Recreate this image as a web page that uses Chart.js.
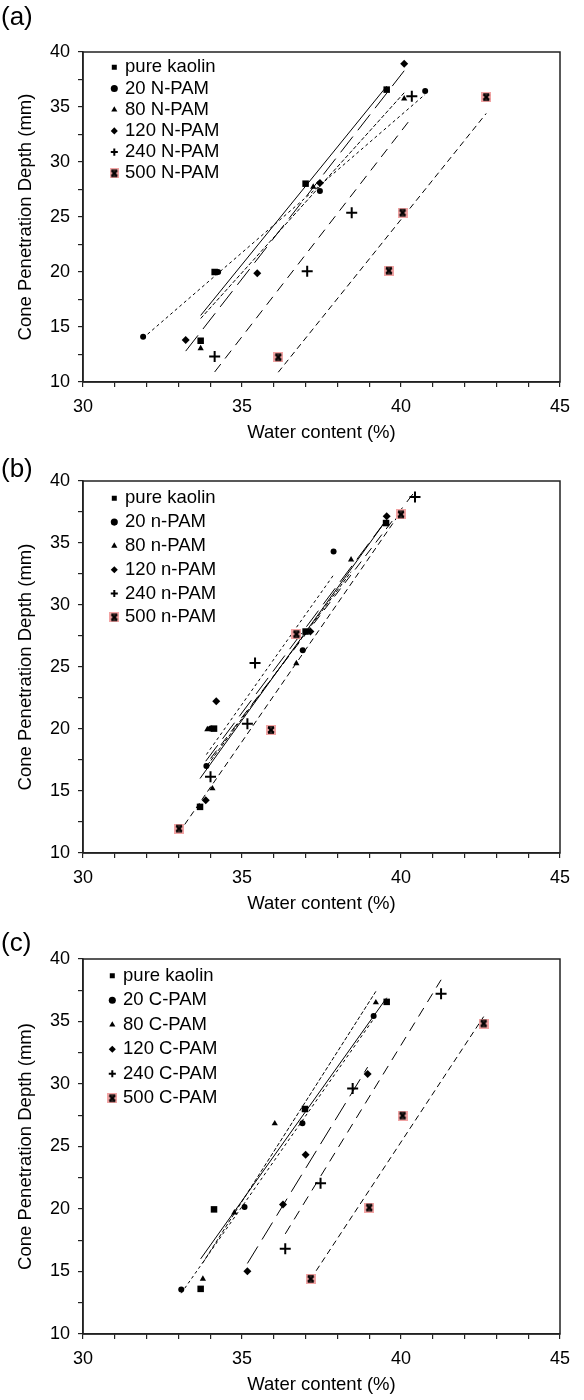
<!DOCTYPE html>
<html>
<head>
<meta charset="utf-8">
<script src="https://cdn.jsdelivr.net/npm/chart.js@4.4.1/dist/chart.umd.min.js"></script>
<style>
  body { margin: 0; background: #fff; }
  #page { position: relative; width: 584px; height: 1400px; overflow: hidden; font-family: 'Liberation Sans', Arial, sans-serif; }
  .panel { position: absolute; left: 0; width: 584px; }
  .tag { position: absolute; left: 1px; font-size: 26px; line-height: 26px; color: #000; }
</style>
</head>
<body>
<div id="page">
  <div class="panel" style="top:0px"><canvas id="chartA" width="584" height="448"></canvas></div>
  <div class="panel" style="top:448px"><canvas id="chartB" width="584" height="471"></canvas></div>
  <div class="panel" style="top:919px"><canvas id="chartC" width="584" height="481"></canvas></div>
  <div class="tag" style="top:3px">(a)</div>
  <div class="tag" style="top:455px">(b)</div>
  <div class="tag" style="top:929px">(c)</div>
</div>
<script>
// axis ticks
const waterTicks = [30, 35, 40, 45];
const depthTicks = [10, 15, 20, 25, 30, 35, 40];

// legend names
const namesA = ['pure kaolin', '20 N-PAM', '80 N-PAM', '120 N-PAM', '240 N-PAM', '500 N-PAM'];
const namesB = ['pure kaolin', '20 n-PAM', '80 n-PAM', '120 n-PAM', '240 n-PAM', '500 n-PAM'];
const namesC = ['pure kaolin', '20 C-PAM', '80 C-PAM', '120 C-PAM', '240 C-PAM', '500 C-PAM'];

// (a) [water content %, cone penetration mm]
const aKaolin = [[33.70, 13.75], [34.14, 20.00], [37.00, 28.03], [39.55, 36.58]];
const a20 = [[31.89, 14.11], [34.25, 20.00], [37.45, 27.36], [40.76, 36.45]];
const a80 = [[33.70, 13.06], [34.18, 19.95], [37.24, 27.73], [40.10, 35.76]];
const a120 = [[33.23, 13.81], [35.48, 19.88], [37.45, 28.09], [40.10, 38.94]];
const a240 = [[34.14, 12.31], [37.05, 20.06], [38.45, 25.39], [40.34, 35.97]];
const a500 = [[36.14, 12.25], [39.62, 20.12], [40.05, 25.39], [42.68, 35.90]];

// (b)
const bKaolin = [[33.68, 13.72], [34.12, 20.03], [37.00, 27.86], [39.53, 36.61]];
const b20 = [[33.88, 17.01], [34.02, 20.05], [36.91, 26.35], [37.88, 34.31]];
const b80 = [[34.07, 15.20], [33.91, 19.97], [36.71, 25.29], [38.43, 33.66]];
const b120 = [[33.86, 14.26], [34.19, 22.24], [37.15, 27.86], [39.55, 37.15]];
const b240 = [[34.01, 16.15], [35.17, 20.43], [35.41, 25.32], [40.44, 38.71]];
const b500 = [[33.02, 11.97], [35.91, 19.92], [36.71, 27.65], [40.00, 37.31]];

// (c)
const cKaolin = [[33.70, 13.61], [34.12, 19.97], [36.98, 28.00], [39.55, 36.57]];
const c20 = [[33.09, 13.56], [35.08, 20.16], [36.90, 26.86], [39.14, 35.45]];
const c80 = [[33.77, 14.41], [34.76, 19.71], [36.03, 26.84], [39.21, 36.52]];
const c120 = [[35.17, 15.03], [36.29, 20.37], [37.00, 24.34], [38.95, 30.80]];
const c240 = [[36.36, 16.82], [37.47, 22.06], [38.48, 29.65], [41.26, 37.23]];
const c500 = [[37.16, 14.41], [39.00, 20.11], [40.05, 27.47], [42.60, 34.84]];

const FONT = "'Liberation Sans', Arial, sans-serif";

// pink square with a black cross, used for the 500 series
const pinkX = document.createElement('canvas');
pinkX.width = 10; pinkX.height = 10;
(function() {
    const g = pinkX.getContext('2d');
    g.fillStyle = '#f2a4a4';
    g.fillRect(0, 0, 10, 10);
    g.strokeStyle = '#000';
    g.lineWidth = 2.2;
    g.beginPath();
    g.moveTo(2.2, 2.2); g.lineTo(7.8, 7.8);
    g.moveTo(7.8, 2.2); g.lineTo(2.2, 7.8);
    g.stroke();
    g.lineWidth = 1.4;
    g.beginPath();
    g.moveTo(2, 2); g.lineTo(8, 2);
    g.moveTo(2, 8); g.lineTo(8, 8);
    g.stroke();
})();

const markers = [
    { style: 'rect', radius: 4.6, border: 0 },
    { style: 'circle', radius: 3, border: 0 },
    { style: 'triangle', radius: 3.6, border: 0 },
    { style: 'rectRot', radius: 4, border: 0 },
    { style: 'cross', radius: 5.5, border: 2 },
    { style: pinkX, radius: 5, border: 0 }
];
const dashes = [[], [3, 3], [4, 2], [20, 8], [10, 7], [6, 4]];

// least squares line over the range of the points
function fitLine(pts) {
    const n = pts.length;
    let mx = 0, my = 0;
    pts.forEach(p => { mx += p[0] / n; my += p[1] / n; });
    let sxx = 0, sxy = 0;
    pts.forEach(p => { sxx += (p[0] - mx) * (p[0] - mx); sxy += (p[0] - mx) * (p[1] - my); });
    const b = sxy / sxx, a = my - b * mx;
    const xs = pts.map(p => p[0]);
    const x0 = Math.min(...xs), x1 = Math.max(...xs);
    return [{ x: x0, y: a + b * x0 }, { x: x1, y: a + b * x1 }];
}

const framePlugin = {
    id: 'frame',
    afterLayout(chart, args, opts) {
        const lg = chart.legend;
        const lab = chart.options.plugins.legend.labels;
        lg.left = opts.legendX - lab.padding - lab.boxWidth / 2;
        lg.right = chart.chartArea.right;
        lg.top = opts.legendY - lab.padding - lab.font.size / 2;
        lg.bottom = chart.chartArea.bottom;
    },
    afterDatasetsDraw(chart) {
        const { ctx, chartArea: a } = chart;
        ctx.save();
        ctx.strokeStyle = '#222';
        ctx.lineWidth = 1.5;
        ctx.strokeRect(a.left, a.top, a.right - a.left, a.bottom - a.top);
        ctx.restore();
    }
};

function makeChart(id, names, series, topPad, legendX, legendY, legendGap) {
    const datasets = [];
    series.forEach((pts, i) => {
        datasets.push({
            label: names[i],
            data: pts.map(p => ({ x: p[0], y: p[1] })),
            showLine: false,
            backgroundColor: '#000',
            borderColor: '#000',
            borderWidth: markers[i].border,
            pointStyle: markers[i].style,
            pointRadius: markers[i].radius,
            pointBorderWidth: markers[i].border,
            order: 0
        });
    });
    series.forEach((pts, i) => {
        datasets.push({
            data: fitLine(pts),
            showLine: true,
            borderColor: '#000',
            borderWidth: 1,
            borderDash: dashes[i],
            pointRadius: 0,
            order: 1
        });
    });

    new Chart(document.getElementById(id), {
        type: 'scatter',
        data: { datasets: datasets },
        options: {
            responsive: false,
            animation: false,
            events: [],
            layout: { padding: { left: 0, right: 24, top: topPad, bottom: 0 } },
            plugins: {
                frame: { legendX: legendX, legendY: legendY },
                tooltip: { enabled: false },
                legend: {
                    position: 'chartArea',
                    align: 'start',
                    labels: {
                        usePointStyle: true,
                        boxWidth: 3,
                        boxHeight: 5,
                        padding: legendGap,
                        color: '#000',
                        font: { family: FONT, size: 18.5 },
                        filter: item => !!item.text
                    }
                }
            },
            scales: {
                x: {
                    type: 'linear',
                    min: waterTicks[0],
                    max: waterTicks[waterTicks.length - 1],
                    afterFit: s => { s.height = 66; },
                    border: { display: true, color: '#222', width: 1.5 },
                    grid: { drawOnChartArea: false, drawTicks: true, tickLength: 5, color: '#222', lineWidth: 1.2 },
                    ticks: {
                        stepSize: 1,
                        autoSkip: false,
                        maxRotation: 0,
                        padding: 9,
                        color: '#000',
                        font: { family: FONT, size: 18 },
                        callback: v => waterTicks.includes(v) ? String(v) : ''
                    },
                    title: {
                        display: true,
                        text: 'Water content (%)',
                        color: '#000',
                        font: { family: FONT, size: 18.5 },
                        padding: { top: 0, bottom: 4.2 }
                    }
                },
                y: {
                    type: 'linear',
                    min: depthTicks[0],
                    max: depthTicks[depthTicks.length - 1],
                    afterFit: s => { s.width = 83; },
                    border: { display: true, color: '#222', width: 1.5 },
                    grid: { drawOnChartArea: false, drawTicks: true, tickLength: 5, color: '#222', lineWidth: 1.2 },
                    ticks: {
                        stepSize: 2.5,
                        autoSkip: false,
                        padding: 8,
                        color: '#000',
                        font: { family: FONT, size: 18 },
                        callback: v => depthTicks.includes(v) ? String(v) : ''
                    },
                    title: {
                        display: true,
                        text: 'Cone Penetration Depth (mm)',
                        color: '#000',
                        font: { family: FONT, size: 18.5 },
                        padding: { top: 15, bottom: 0 }
                    }
                }
            }
        },
        plugins: [framePlugin]
    });
}

makeChart('chartA', namesA, [aKaolin, a20, a80, a120, a240, a500], 52, 114.3, 67.3, 2.7);
makeChart('chartB', namesB, [bKaolin, b20, b80, b120, b240, b500], 33, 114.3, 50.3, 5.3);
makeChart('chartC', namesC, [cKaolin, c20, c80, c120, c240, c500], 40, 112.3, 56.7, 6);
</script>
</body>
</html>
